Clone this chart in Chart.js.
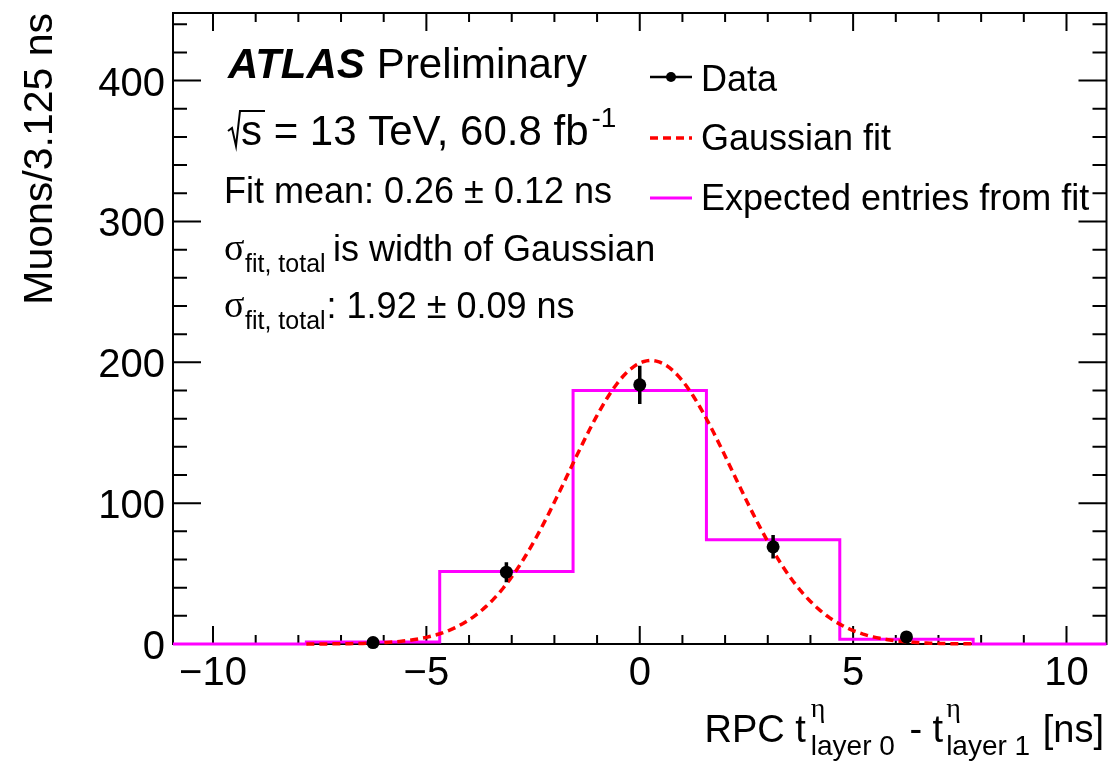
<!DOCTYPE html>
<html>
<head>
<meta charset="utf-8">
<script src="https://cdn.jsdelivr.net/npm/chart.js@4.4.1/dist/chart.umd.min.js"></script>
<style>
  html, body { margin: 0; padding: 0; background: #fff; }
  #wrap { width: 1113px; height: 761px; }
</style>
</head>
<body>
<div id="wrap"><canvas id="chart"></canvas></div>
<script>
// Histogram binning [ns], 3.125 ns wide bins
const binEdges = [-10.9375, -7.8125, -4.6875, -1.5625, 1.5625, 4.6875, 7.8125, 10.9375];
// Expected entries per bin from the fit
const expectedEntries = [0, 1.5, 51.5, 180, 74, 3.3, 0];

// Measured muons per bin, with statistical errors
const dataX = [-6.25, -3.125, 0, 3.125, 6.25];
const dataY = [1, 51, 184, 69, 5];
const dataErr = [1, 7.1, 13.6, 8.3, 2.2];

// Gaussian fit result
const fitMean = 0.26;
const fitSigma = 1.92;
const fitPeak = 201.3;
const fitRange = [-7.8125, 7.8125];

// Axes
const xRange = [-10.9375, 10.9375];
const yRange = [0, 448];
const xTicks = [-10, -5, 0, 5, 10];
const xTickLabels = ['\u221210', '\u22125', '0', '5', '10'];
const yTicks = [0, 100, 200, 300, 400];
const yTickLabels = ['0', '100', '200', '300', '400'];

const SANS = '"Liberation Sans", Arial, Helvetica, sans-serif';
const SERIF = '"Liberation Serif", "Times New Roman", serif';
const FIT_DASH = [8, 5];

function histPoints() {
    return binEdges.map((e, i) => ({
        x: e,
        y: expectedEntries[Math.min(i, expectedEntries.length - 1)]
    }));
}

function fitPoints() {
    const pts = [];
    const n = 200;
    for (let i = 0; i <= n; i++) {
        const x = fitRange[0] + (fitRange[1] - fitRange[0]) * i / n;
        const z = (x - fitMean) / fitSigma;
        pts.push({ x: x, y: fitPeak * Math.exp(-0.5 * z * z) });
    }
    return pts;
}

// frame with inward ticks on all four sides
const framePlugin = {
    id: 'frame',
    beforeDatasetsDraw(chart) {
        const { ctx, chartArea: a, scales: { x, y } } = chart;
        ctx.save();
        ctx.strokeStyle = '#000';
        ctx.lineWidth = 2;
        ctx.strokeRect(a.left, a.top, a.right - a.left, a.bottom - a.top);
        ctx.beginPath();
        for (let v = Math.ceil(x.min); v <= x.max; v += 1) {
            const px = x.getPixelForValue(v);
            const len = v % 5 === 0 ? 18 : 9;
            ctx.moveTo(px, a.bottom); ctx.lineTo(px, a.bottom - len);
            ctx.moveTo(px, a.top); ctx.lineTo(px, a.top + len);
        }
        for (let v = 0; v <= y.max; v += 20) {
            const py = y.getPixelForValue(v);
            const len = v % 100 === 0 ? 28 : 14;
            ctx.moveTo(a.left, py); ctx.lineTo(a.left + len, py);
            ctx.moveTo(a.right, py); ctx.lineTo(a.right - len, py);
        }
        ctx.stroke();

        ctx.fillStyle = '#000';
        ctx.font = '40px ' + SANS;
        ctx.textAlign = 'center';
        ctx.textBaseline = 'alphabetic';
        xTicks.forEach((v, i) => ctx.fillText(xTickLabels[i], x.getPixelForValue(v), a.bottom + 41));
        ctx.textAlign = 'right';
        yTicks.forEach((v, i) => ctx.fillText(yTickLabels[i], a.left - 8, y.getPixelForValue(v) + 15));
        ctx.restore();
    }
};

// vertical error bars under the data markers
const errorBarPlugin = {
    id: 'errorBars',
    beforeDatasetDraw(chart, args) {
        if (args.index !== 0) return;
        const { ctx, scales: { x, y } } = chart;
        ctx.save();
        ctx.strokeStyle = '#000';
        ctx.lineWidth = 3.5;
        ctx.beginPath();
        dataX.forEach((v, i) => {
            const px = x.getPixelForValue(v);
            ctx.moveTo(px, y.getPixelForValue(dataY[i] - dataErr[i]));
            ctx.lineTo(px, y.getPixelForValue(dataY[i] + dataErr[i]));
        });
        ctx.stroke();
        ctx.restore();
    }
};

function drawSigma(ctx, x, base, sub) {
    ctx.font = '38px ' + SERIF;
    ctx.fillText('\u03c3', x, base);
    ctx.font = '25px ' + SANS;
    ctx.fillText(sub, x + 21, base + 12);
    return x + 21 + ctx.measureText(sub).width;
}

function drawXTitle(ctx, right, base) {
    const big = '38px ' + SANS;
    const small = '28px ' + SANS;
    const greek = '28px ' + SERIF;
    const parts = [
        { text: 'RPC t', gap: 5 },
        { sub: 'layer 0', gap: 4 },
        { text: ' - t', gap: 3 },
        { sub: 'layer 1', gap: 2 },
        { text: ' [ns]', gap: 0 }
    ];
    parts.forEach(p => {
        ctx.font = p.text ? big : small;
        p.w = ctx.measureText(p.text || p.sub).width;
    });
    const total = parts.reduce((s, p) => s + p.w + p.gap, 0);
    let cx = right - total;
    parts.forEach(p => {
        if (p.text) {
            ctx.font = big;
            ctx.fillText(p.text, cx, base);
        } else {
            ctx.font = greek;
            ctx.fillText('\u03b7', cx, base - 25);
            ctx.font = small;
            ctx.fillText(p.sub, cx, base + 13);
        }
        cx += p.w + p.gap;
    });
}

const textPlugin = {
    id: 'texts',
    afterDraw(chart) {
        const { ctx } = chart;
        ctx.save();
        ctx.fillStyle = '#000';
        ctx.textAlign = 'left';
        ctx.textBaseline = 'alphabetic';

        // axis titles
        ctx.save();
        ctx.translate(52, 13);
        ctx.rotate(-Math.PI / 2);
        ctx.font = '41px ' + SANS;
        ctx.textAlign = 'right';
        ctx.fillText('Muons/3.125 ns', 0, 0);
        ctx.restore();
        drawXTitle(ctx, 1104, 742);

        // labels
        ctx.font = 'italic bold 42px ' + SANS;
        ctx.fillText('ATLAS', 228, 78);
        const w = ctx.measureText('ATLAS').width;
        ctx.font = '42px ' + SANS;
        ctx.fillText('Preliminary', 228 + w + 12, 78);

        ctx.strokeStyle = '#000';
        ctx.lineWidth = 2;
        ctx.beginPath();
        ctx.moveTo(228, 131); ctx.lineTo(232, 128); ctx.lineTo(236, 146);
        ctx.lineTo(240, 111); ctx.lineTo(265, 111);
        ctx.stroke();
        ctx.fillText('s = 13 TeV, 60.8 fb', 241, 145);
        const w2 = ctx.measureText('s = 13 TeV, 60.8 fb').width;
        ctx.font = '28px ' + SANS;
        ctx.fillText('-1', 241 + w2 + 3, 127);

        ctx.font = '36px ' + SANS;
        ctx.fillText('Fit mean: 0.26 \u00b1 0.12 ns', 224, 203);
        drawSigma(ctx, 224, 260, 'fit, total');
        ctx.font = '36px ' + SANS;
        ctx.fillText('is width of Gaussian', 333, 261);
        const ex = drawSigma(ctx, 224, 317, 'fit, total');
        ctx.font = '36px ' + SANS;
        ctx.fillText(': 1.92 \u00b1 0.09 ns', ex + 1, 318);

        // legend
        ctx.lineWidth = 2.5;
        ctx.beginPath();
        ctx.moveTo(650, 77); ctx.lineTo(692, 77);
        ctx.stroke();
        ctx.beginPath();
        ctx.arc(671, 77, 5, 0, Math.PI * 2);
        ctx.fill();
        ctx.fillText('Data', 701, 91);

        ctx.strokeStyle = '#ff0000';
        ctx.lineWidth = 3.5;
        ctx.setLineDash(FIT_DASH);
        ctx.beginPath();
        ctx.moveTo(650, 138); ctx.lineTo(692, 138);
        ctx.stroke();
        ctx.setLineDash([]);
        ctx.fillText('Gaussian fit', 701, 150);

        ctx.strokeStyle = '#ff00ff';
        ctx.lineWidth = 3;
        ctx.beginPath();
        ctx.moveTo(650, 198); ctx.lineTo(692, 198);
        ctx.stroke();
        ctx.fillText('Expected entries from fit', 701, 210);
        ctx.restore();
    }
};

new Chart(
    document.getElementById('chart'),
    {
        type: 'line',
        data: {
            datasets: [
                {
                    label: 'Data',
                    data: dataX.map((v, i) => ({ x: v, y: dataY[i] })),
                    showLine: false,
                    pointRadius: 6.5,
                    pointBackgroundColor: '#000',
                    pointBorderColor: '#000',
                    pointBorderWidth: 0,
                    clip: false
                },
                {
                    label: 'Gaussian fit',
                    data: fitPoints(),
                    borderColor: '#ff0000',
                    borderWidth: 3.5,
                    borderDash: FIT_DASH,
                    pointRadius: 0,
                    tension: 0,
                    clip: false
                },
                {
                    label: 'Expected entries from fit',
                    data: histPoints(),
                    stepped: 'before',
                    borderColor: '#ff00ff',
                    borderWidth: 3,
                    pointRadius: 0,
                    clip: false
                }
            ]
        },
        options: {
            responsive: true,
            maintainAspectRatio: false,
            animation: false,
            devicePixelRatio: 1,
            layout: {
                padding: { left: 173, right: 5, top: 13, bottom: 117 }
            },
            plugins: {
                legend: { display: false },
                tooltip: { enabled: false }
            },
            scales: {
                x: { type: 'linear', min: xRange[0], max: xRange[1], display: false },
                y: { type: 'linear', min: yRange[0], max: yRange[1], display: false }
            }
        },
        plugins: [framePlugin, errorBarPlugin, textPlugin]
    }
);
</script>
</body>
</html>
